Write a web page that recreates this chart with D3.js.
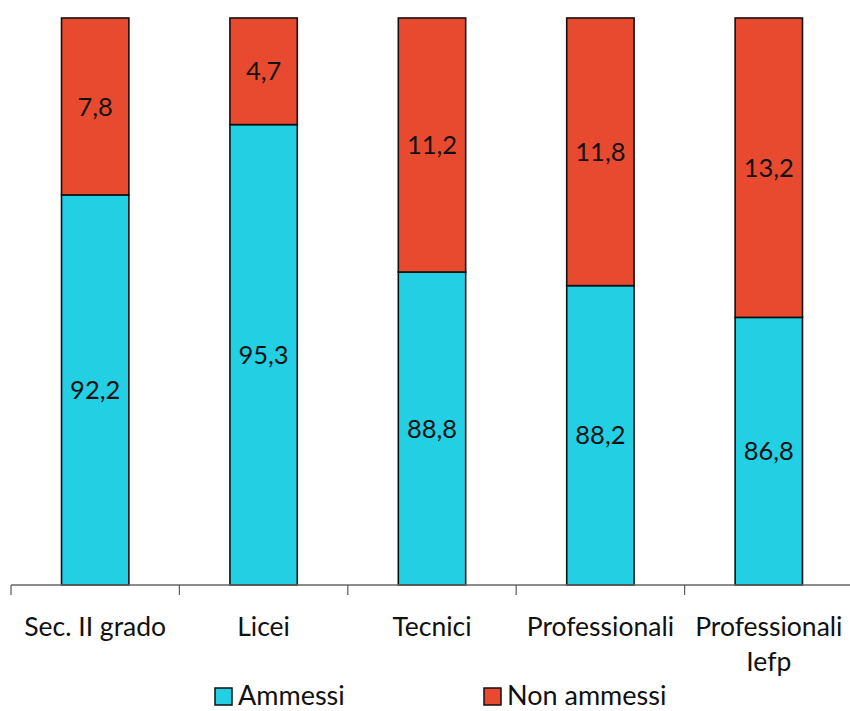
<!DOCTYPE html>
<html><head><meta charset="utf-8">
<script src="https://cdn.jsdelivr.net/npm/d3@7"></script>
<style>body{margin:0;background:#fff}svg{display:block}</style>
</head><body>
<script>
const categories = ["Sec. II grado", "Licei", "Tecnici", "Professionali", "Professionali\nIefp"];
const ammessi = [92.2, 95.3, 88.8, 88.2, 86.8];
const nonAmmessi = [7.8, 4.7, 11.2, 11.8, 13.2];
const seriesNames = ["Ammessi", "Non ammessi"];
const colors = ["#22CFE3", "#E84A2F"];

const W = 850, H = 711;
const svg = d3.select("body").append("svg").attr("width", W).attr("height", H);
const font = "Lato, 'Open Sans', sans-serif";

const x = d3.scaleBand().domain(categories).range([11, 853]).paddingInner(0.6).paddingOuter(0.3);
const y = d3.scaleLinear().domain([75, 100]).range([585, 18]);

const data = categories.map((c, i) => ({cat: c, Ammessi: ammessi[i], "Non ammessi": nonAmmessi[i]}));
const stack = d3.stack().keys(seriesNames);
const series = stack(data);
const base = y.domain()[0];

const g = svg.append("g");
series.forEach((s, si) => {
  s.forEach((d, i) => {
    const y0 = si === 0 ? base : d[0];
    const y1 = d[1];
    g.append("rect")
      .attr("x", x(data[i].cat))
      .attr("width", x.bandwidth())
      .attr("y", y(y1))
      .attr("height", y(y0) - y(y1))
      .attr("fill", colors[si])
      .attr("stroke", "#111").attr("stroke-width", 1.6);
    const val = si === 0 ? ammessi[i] : nonAmmessi[i];
    g.append("text")
      .attr("x", x(data[i].cat) + x.bandwidth() / 2)
      .attr("y", (y(y0) + y(y1)) / 2)
      .attr("dy", "0.36em")
      .attr("text-anchor", "middle")
      .attr("font-family", font).attr("font-size", 25.5).attr("fill", "#111")
      .text(String(val).replace(".", ","));
  });
});

// x axis
const xAxis = svg.append("g").attr("transform", "translate(0,585)");
xAxis.append("line").attr("x1", 11).attr("x2", 853).attr("stroke", "#666").attr("stroke-width", 1.3);
const step = x.step();
const ticks = d3.range(categories.length + 1).map(i => 11 + i * step);
ticks.forEach(t => xAxis.append("line").attr("x1", t).attr("x2", t).attr("y1", 0).attr("y2", 10).attr("stroke", "#666").attr("stroke-width", 1.3));
categories.forEach(c => {
  const lines = c.split("\n");
  const t = xAxis.append("text").attr("text-anchor", "middle")
    .attr("font-family", font).attr("font-size", 26.5).attr("fill", "#111");
  lines.forEach((l, li) => t.append("tspan").attr("x", x(c) + x.bandwidth() / 2).attr("y", 51 + li * 35).text(l));
});

// legend
const legend = svg.append("g");
const legX = [215, 484];
seriesNames.forEach((n, i) => {
  legend.append("rect").attr("x", legX[i]).attr("y", 688).attr("width", 17).attr("height", 17)
    .attr("fill", colors[i]).attr("stroke", "#111").attr("stroke-width", 1.5);
  legend.append("text").attr("x", legX[i] + 23).attr("y", 705)
    .attr("font-family", font).attr("font-size", 27).attr("fill", "#111").text(n);
});
</script>
</body></html>
